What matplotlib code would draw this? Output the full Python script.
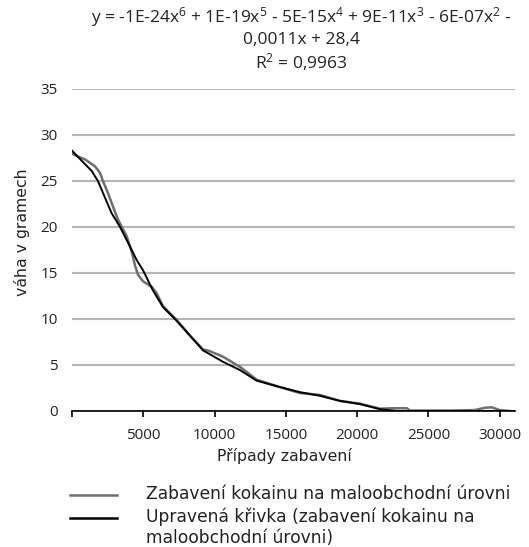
import matplotlib
matplotlib.use("Agg")
from matplotlib import pyplot as plt
from matplotlib.lines import Line2D

plt.rcParams['font.family'] = ['Open Sans', 'DejaVu Sans']

# Zabavení kokainu (seřazeno podle hmotnosti)
pripady = [0, 210, 910, 1610, 1960, 2170, 2520, 2880, 3225, 3500, 3835, 4190,
           4420, 4630, 4980, 5590, 5940, 6380, 7340, 8270, 9180, 9670, 10590,
           11780, 12250, 12950, 14580, 15980, 17390, 18790, 20190, 21600,
           22440, 23490, 23700, 26500, 28250, 28950, 29440, 30000, 30700]
vaha = [28.0, 27.8, 27.35, 26.6, 25.9, 25.0, 23.7, 22.2, 20.8, 20.0, 19.0, 17.3,
        15.8, 14.8, 14.1, 13.5, 12.8, 11.4, 9.9, 8.2, 6.7, 6.5, 5.9,
        4.8, 4.25, 3.4, 2.6, 1.95, 1.75, 1.1, 0.8, 0.25,
        0.3, 0.3, 0.05, 0.05, 0.1, 0.35, 0.4, 0.1, 0.0]

# Upravená křivka (polynom 6. stupně)
krivka_x = [0, 680, 1380, 1820, 2310, 2780, 3370, 3930, 4540, 4980, 5680, 6380,
            7340, 8270, 9180, 10590, 11780, 12950, 14580, 15980, 17390, 18790,
            20190, 21600, 22770, 25000, 28000, 31000]
krivka_y = [28.3, 27.2, 26.1, 25.0, 23.2, 21.5, 20.0, 18.3, 16.4, 15.3, 13.1, 11.3,
            9.8, 8.2, 6.6, 5.35, 4.45, 3.3, 2.6, 2.05, 1.65, 1.1,
            0.75, 0.2, 0.0, 0.0, 0.0, 0.0]

rovnice = [r'y = -1E-24x$\mathregular{^6}$ + 1E-19x$\mathregular{^5}$ - 5E-15x$\mathregular{^4}$'
           r' + 9E-11x$\mathregular{^3}$ - 6E-07x$\mathregular{^2}$ -',
           '0,0011x + 28,4',
           r'R$\mathregular{^2}$ = 0,9963']

W, H = 529, 547
fig = plt.figure(figsize=(W / 100, H / 100), dpi=100)
ax = fig.add_axes([72 / W, 1 - 411 / H, (515 - 72) / W, (411 - 89) / H])

ax.plot(pripady, vaha, color='#6e6e6e', lw=1.8, zorder=3)
ax.plot(krivka_x, krivka_y, color='black', lw=1.4, zorder=4)

ax.set_xlim(0, 31070)
ax.set_ylim(0, 35)
ax.set_yticks(range(0, 36, 5))
ax.set_xticks(range(0, 30001, 5000))
ax.set_xticklabels([''] + [str(v) for v in range(5000, 30001, 5000)])
ax.grid(axis='y', color='#b4b4b4', lw=1.5)
ax.set_axisbelow(True)
for s in ['top', 'right', 'left']:
    ax.spines[s].set_visible(False)
ax.spines['bottom'].set_color('black')
ax.spines['bottom'].set_linewidth(1.2)
ax.tick_params(axis='y', length=0, pad=10, labelsize=11, labelcolor='#222222')
ax.tick_params(axis='x', length=4, width=1.2, direction='out', pad=8,
               labelsize=11, labelcolor='#222222')

fig.text(22 / W, 1 - 232 / H, 'váha v gramech', rotation=90, ha='center', va='center',
         fontsize=11.3, family='DejaVu Sans', color='#222222')
fig.text(284 / W, 1 - 456 / H, 'Případy zabavení', ha='center', va='center',
         fontsize=11.3, family='DejaVu Sans', color='#222222')

for txt, yy in zip(rovnice, [17, 40, 62]):
    fig.text(301.5 / W, 1 - yy / H, txt, ha='center', va='center', fontsize=12.5,
             color='#222222')

# legenda
fig.add_artist(Line2D([70 / W, 117 / W], [1 - 495 / H, 1 - 495 / H],
                      color='#6e6e6e', lw=1.8))
fig.add_artist(Line2D([70 / W, 117 / W], [1 - 518 / H, 1 - 518 / H],
                      color='black', lw=1.8))
fig.text(146 / W, 1 - 494 / H, 'Zabavení kokainu na maloobchodní úrovni',
         ha='left', va='center', fontsize=12.3, family='DejaVu Sans', color='#222222')
fig.text(146 / W, 1 - 517 / H, 'Upravená křivka (zabavení kokainu na',
         ha='left', va='center', fontsize=12.3, family='DejaVu Sans', color='#222222')
fig.text(146 / W, 1 - 538 / H, 'maloobchodní úrovni)',
         ha='left', va='center', fontsize=12.3, family='DejaVu Sans', color='#222222')

fig.savefig('out.png', dpi=100)
